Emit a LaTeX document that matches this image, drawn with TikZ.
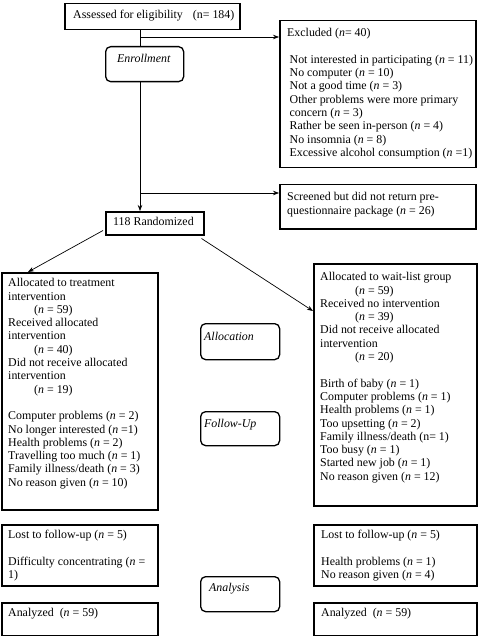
\documentclass[tikz,border=0pt]{standalone}
\usepackage{fontspec}
\setmainfont{Liberation Serif}
\usetikzlibrary{arrows.meta,calc}
\tikzset{
  bx/.style={draw, line width=1.5pt, anchor=north west, inner sep=0pt, fill=white},
  rbx/.style={draw, line width=1.3pt, anchor=north west, inner sep=0pt, rounded corners=5pt, fill=white},
  txt/.style={anchor=north west, inner sep=0pt, align=left, font=\fontsize{11.9}{13.3}\selectfont},
  itx/.style={txt, font=\fontsize{11.9}{13.3}\selectfont\itshape},
  arr/.style={line width=0.7pt, -{Stealth[length=6pt,width=4.5pt]}},
  ln/.style={line width=0.7pt}
}
\newcommand{\nn}{\textit{n}}
\begin{document}
\begin{tikzpicture}[x=1pt,y=-1pt]
\useasboundingbox (0,0) rectangle (480,636);
\coordinate (vx) at (140,0);
\coordinate (b1) at (140,37);
\coordinate (b2) at (140,193);

\node[bx, minimum width=175pt, minimum height=26pt] (assess) at (64,3) {};
\node[txt] (assessT) at ($(assess.north west)+(9,6.2)$) {\strut Assessed for eligibility\hspace{10pt}(n= 184)};

\node[bx, minimum width=196pt, minimum height=147pt] (excl) at (279,20) {};
\node[txt] (exclT) at ($(excl.north west)+(8,7.2)$) {\strut Excluded (\nn= 40)\\
\mbox{}\\
\hspace*{2.5pt}Not interested in participating (\nn\ = 11)\\
\hspace*{2.5pt}No computer (\nn\ = 10)\\
\hspace*{2.5pt}Not a good time (\nn\ = 3)\\
\hspace*{2.5pt}Other problems were more primary\\
\hspace*{2.5pt}concern (\nn\ = 3)\\
\hspace*{2.5pt}Rather be seen in-person (\nn\ = 4)\\
\hspace*{2.5pt}No insomnia (\nn\ = 8)\\
\hspace*{2.5pt}Excessive alcohol consumption (\nn\ =1)};

\node[bx, minimum width=196pt, minimum height=44pt] (scr) at (279,184) {};
\node[txt] (scrT) at ($(scr.north west)+(8,7.2)$) {\strut Screened but did not return pre-\\questionnaire package (\nn\ = 26)};

\node[bx, minimum width=98pt, minimum height=23pt] (rand) at (105,211) {};
\node[txt] (randT) at ($(rand.north west)+(8,5.2)$) {\strut 118 Randomized};

\node[bx, minimum width=156pt, minimum height=237pt] (lal) at (1,272) {};
\node[txt] (lalT) at ($(lal.north west)+(7,5.2)$) {\strut Allocated to treatment\\
intervention\\
\hspace*{26pt}(\nn\ = 59)\\
Received allocated\\
intervention\\
\hspace*{26pt}(\nn\ = 40)\\
Did not receive allocated\\
intervention\\
\hspace*{26pt}(\nn\ = 19)\\
\mbox{}\\
Computer problems (\nn\ = 2)\\
No longer interested (\nn\ =1)\\
Health problems (\nn\ = 2)\\
Travelling too much (\nn\ = 1)\\
Family illness/death (\nn\ = 3)\\
No reason given (\nn\ = 10)};

\node[bx, minimum width=163pt, minimum height=242pt] (ral) at (313,263) {};
\node[txt] (ralT) at ($(ral.north west)+(7,8.2)$) {\strut Allocated to wait-list group\\
\hspace*{35pt}(\nn\ = 59)\\
Received no intervention\\
\hspace*{35pt}(\nn\ = 39)\\
Did not receive allocated\\
intervention\\
\hspace*{35pt}(\nn\ = 20)\\
\mbox{}\\
Birth of baby (\nn\ = 1)\\
Computer problems (\nn\ = 1)\\
Health problems (\nn\ = 1)\\
Too upsetting (\nn\ = 2)\\
Family illness/death (n= 1)\\
Too busy (\nn\ = 1)\\
Started new job (\nn\ = 1)\\
No reason given (\nn\ = 12)};

\node[bx, minimum width=156pt, minimum height=61pt] (llost) at (1,524) {};
\node[txt] (llostT) at ($(llost.north west)+(7,5.2)$) {\strut Lost to follow-up (\nn\ = 5)\\
\mbox{}\\
Difficulty concentrating (\nn\ =\\
1)};

\node[bx, minimum width=163pt, minimum height=61pt] (rlost) at (313,524) {};
\node[txt] (rlostT) at ($(rlost.north west)+(8,5.2)$) {\strut Lost to follow-up (\nn\ = 5)\\
\mbox{}\\
Health problems (\nn\ = 1)\\
No reason given (\nn\ = 4)};

\node[bx, minimum width=156pt, minimum height=33pt] (lan) at (1,602) {};
\node[txt] (lanT) at ($(lan.north west)+(7,5.2)$) {\strut Analyzed\ \ (\nn\ = 59)};

\node[bx, minimum width=163pt, minimum height=33pt] (ran) at (313,602) {};
\node[txt] (ranT) at ($(ran.north west)+(8,5.2)$) {\strut Analyzed\ \ (\nn\ = 59)};

\draw[arr] (assess.south -| vx) -- (rand.north -| vx);
\draw[arr] (b1) -- (b1 -| excl.west);
\draw[arr] (b2) -- (b2 -| scr.west);
\draw[arr] ($(rand.south west)+(-2,-5)$) -- ($(lal.north west)+(27,0)$);
\draw[arr] ($(rand.south east)+(-3,3)$) -- ($(ral.north west)+(0,48)$);

\node[rbx, minimum width=78pt, minimum height=35pt] (enr) at (105,46) {};
\node[itx] (enrT) at ($(enr.north west)+(12,7.2)$) {\strut Enrollment};

\node[rbx, minimum width=79pt, minimum height=36pt] (alc) at (200,323) {};
\node[itx] (alcT) at ($(alc.north west)+(4,8.2)$) {\strut Allocation};

\node[rbx, minimum width=79pt, minimum height=34pt] (fup) at (200,411) {};
\node[itx] (fupT) at ($(fup.north west)+(4,7.2)$) {\strut Follow-Up};

\node[rbx, minimum width=79pt, minimum height=35pt] (ana) at (200,576) {};
\node[itx] (anaT) at ($(ana.north west)+(9,6.2)$) {\strut Analysis};
\end{tikzpicture}
\end{document}
